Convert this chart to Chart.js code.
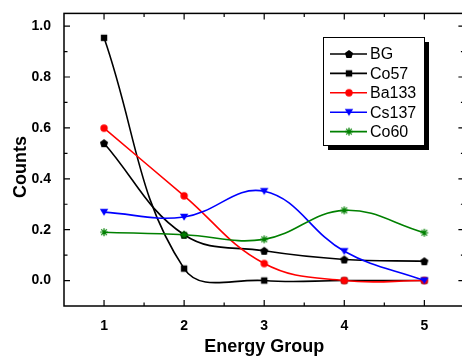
<!DOCTYPE html>
<html>
<head>
<meta charset="utf-8">
<script src="https://cdn.jsdelivr.net/npm/chart.js@4.4.1/dist/chart.umd.min.js"></script>
<style>
html, body { margin: 0; padding: 0; background: #fff; overflow: hidden; }
#wrap { position: relative; width: 470px; height: 358px; }
</style>
</head>
<body>
<div id="wrap"><canvas id="chart"></canvas></div>
<script>
// data
const groups = [1, 2, 3, 4, 5];
const bgCounts = [0.54, 0.18, 0.117, 0.083, 0.076];
const co57Counts = [0.954, 0.047, 0.0, 0.0, 0.0];
const ba133Counts = [0.599, 0.333, 0.067, 0.0, 0.0];
const cs137Counts = [0.269, 0.25, 0.351, 0.115, 0.0];
const co60Counts = [0.19, 0.18, 0.162, 0.276, 0.188];
const seriesNames = ['BG', 'Co57', 'Ba133', 'Cs137', 'Co60'];

const xTicks = [1, 2, 3, 4, 5];
const xMinorTicks = [1.5, 2.5, 3.5, 4.5];
const yTicks = [0, 0.2, 0.4, 0.6, 0.8, 1.0];
const yMinorTicks = [0.1, 0.3, 0.5, 0.7, 0.9];

const FONT = "'Liberation Sans', Arial, sans-serif";

// small canvases used as point styles
function makeMarker(kind, color) {
    const c = document.createElement('canvas');
    c.width = 12; c.height = 12;
    const g = c.getContext('2d');
    const m = 6;
    g.fillStyle = color; g.strokeStyle = color;
    g.beginPath();
    if (kind === 'pentagon') {
        for (let i = 0; i < 5; i++) {
            const a = -Math.PI / 2 + i * 2 * Math.PI / 5;
            const px = m + 4.3 * Math.cos(a), py = m + 0.4 + 4.3 * Math.sin(a);
            if (i === 0) g.moveTo(px, py); else g.lineTo(px, py);
        }
        g.closePath(); g.fill();
    } else if (kind === 'square') {
        g.fillRect(m - 3.2, m - 3.2, 6.4, 6.4);
    } else if (kind === 'circle') {
        g.arc(m, m, 3.7, 0, Math.PI * 2); g.fill();
    } else if (kind === 'tri') {
        g.moveTo(m - 4.2, m - 3.3); g.lineTo(m + 4.2, m - 3.3); g.lineTo(m, m + 3.8);
        g.closePath(); g.fill();
    } else if (kind === 'star') {
        g.lineWidth = 1.2;
        for (let i = 0; i < 4; i++) {
            const a = i * Math.PI / 4;
            g.moveTo(m - 4 * Math.cos(a), m - 4 * Math.sin(a));
            g.lineTo(m + 4 * Math.cos(a), m + 4 * Math.sin(a));
        }
        g.stroke();
    }
    return c;
}

const colors = ['#000000', '#000000', '#ff0000', '#0000ff', '#008000'];
const markers = [
    makeMarker('pentagon', colors[0]),
    makeMarker('square', colors[1]),
    makeMarker('circle', colors[2]),
    makeMarker('tri', colors[3]),
    makeMarker('star', colors[4])
];
const allSeries = [bgCounts, co57Counts, ba133Counts, cs137Counts, co60Counts];

const datasets = allSeries.map((vals, i) => ({
    label: seriesNames[i],
    data: groups.map((g, j) => ({ x: g, y: vals[j] })),
    borderColor: colors[i],
    backgroundColor: colors[i],
    borderWidth: 1.6,
    tension: 0.4,
    pointStyle: markers[i],
    pointRadius: 4,
    order: 5 - i
}));

// frame, inward ticks, axis titles, legend with shadow
const decorPlugin = {
    id: 'decor',
    afterDraw(chart) {
        const ctx = chart.ctx;
        const a = chart.chartArea;
        const xs = chart.scales.x, ys = chart.scales.y;
        ctx.save();
        ctx.strokeStyle = '#000';
        ctx.lineWidth = 1.5;
        ctx.strokeRect(a.left, a.top, a.right - a.left, a.bottom - a.top);
        ctx.lineWidth = 1.2;
        ctx.beginPath();
        const tickX = (v, len) => {
            const px = xs.getPixelForValue(v);
            ctx.moveTo(px, a.bottom); ctx.lineTo(px, a.bottom - len);
            ctx.moveTo(px, a.top); ctx.lineTo(px, a.top + len);
        };
        const tickY = (v, len) => {
            const py = ys.getPixelForValue(v);
            ctx.moveTo(a.left, py); ctx.lineTo(a.left + len, py);
            ctx.moveTo(a.right, py); ctx.lineTo(a.right - len, py);
        };
        xTicks.forEach(v => tickX(v, 6));
        xMinorTicks.forEach(v => tickX(v, 3.5));
        yTicks.forEach(v => tickY(v, 6));
        yMinorTicks.forEach(v => tickY(v, 3.5));
        ctx.stroke();

        // axis titles
        ctx.fillStyle = '#000';
        ctx.font = 'bold 18px ' + FONT;
        ctx.textAlign = 'center';
        ctx.textBaseline = 'middle';
        ctx.fillText('Energy Group', (a.left + a.right) / 2, 347);
        ctx.save();
        ctx.translate(21, 167);
        ctx.rotate(-Math.PI / 2);
        ctx.fillText('Counts', 0, 0);
        ctx.restore();

        // legend
        const lx = 323, ly = 37, lw = 101, lh = 108;
        ctx.fillStyle = '#000';
        ctx.fillRect(lx + 5, ly + 5, lw, lh);
        ctx.fillStyle = '#fff';
        ctx.fillRect(lx, ly, lw, lh);
        ctx.lineWidth = 1;
        ctx.strokeStyle = '#000';
        ctx.strokeRect(lx + 0.5, ly + 0.5, lw, lh);
        ctx.font = '16px ' + FONT;
        ctx.textAlign = 'left';
        chart.data.datasets.forEach((ds, i) => {
            const ry = 54 + i * 19.4;
            ctx.strokeStyle = ds.borderColor;
            ctx.lineWidth = 1.6;
            ctx.beginPath();
            ctx.moveTo(330, ry); ctx.lineTo(367, ry);
            ctx.stroke();
            ctx.drawImage(ds.pointStyle, 349 - 6, ry - 6);
            ctx.fillStyle = '#000';
            ctx.fillText(ds.label, 370, ry + 1);
        });
        ctx.restore();
    }
};

new Chart(document.getElementById('chart'), {
    type: 'line',
    data: { datasets },
    options: {
        responsive: true,
        maintainAspectRatio: false,
        animation: false,
        layout: { padding: { left: 0, top: 7, right: 3, bottom: 0 } },
        plugins: { legend: { display: false }, tooltip: { enabled: false } },
        scales: {
            x: {
                type: 'linear',
                min: 0.5, max: 5.5,
                grid: { display: false },
                border: { display: false },
                afterBuildTicks: s => { s.ticks = xTicks.map(v => ({ value: v })); },
                afterFit: s => { s.height = 52; },
                ticks: {
                    padding: 4,
                    color: '#000',
                    font: { family: FONT, size: 14, weight: 'bold' },
                    callback: v => String(v)
                }
            },
            y: {
                type: 'linear',
                min: -0.1, max: 1.05,
                grid: { display: false },
                border: { display: false },
                afterBuildTicks: s => { s.ticks = yTicks.map(v => ({ value: v })); },
                afterFit: s => { s.width = 64; },
                ticks: {
                    padding: 5,
                    color: '#000',
                    font: { family: FONT, size: 14, weight: 'bold' },
                    callback: v => v.toFixed(1)
                }
            }
        }
    },
    plugins: [decorPlugin]
});
</script>
</body>
</html>
